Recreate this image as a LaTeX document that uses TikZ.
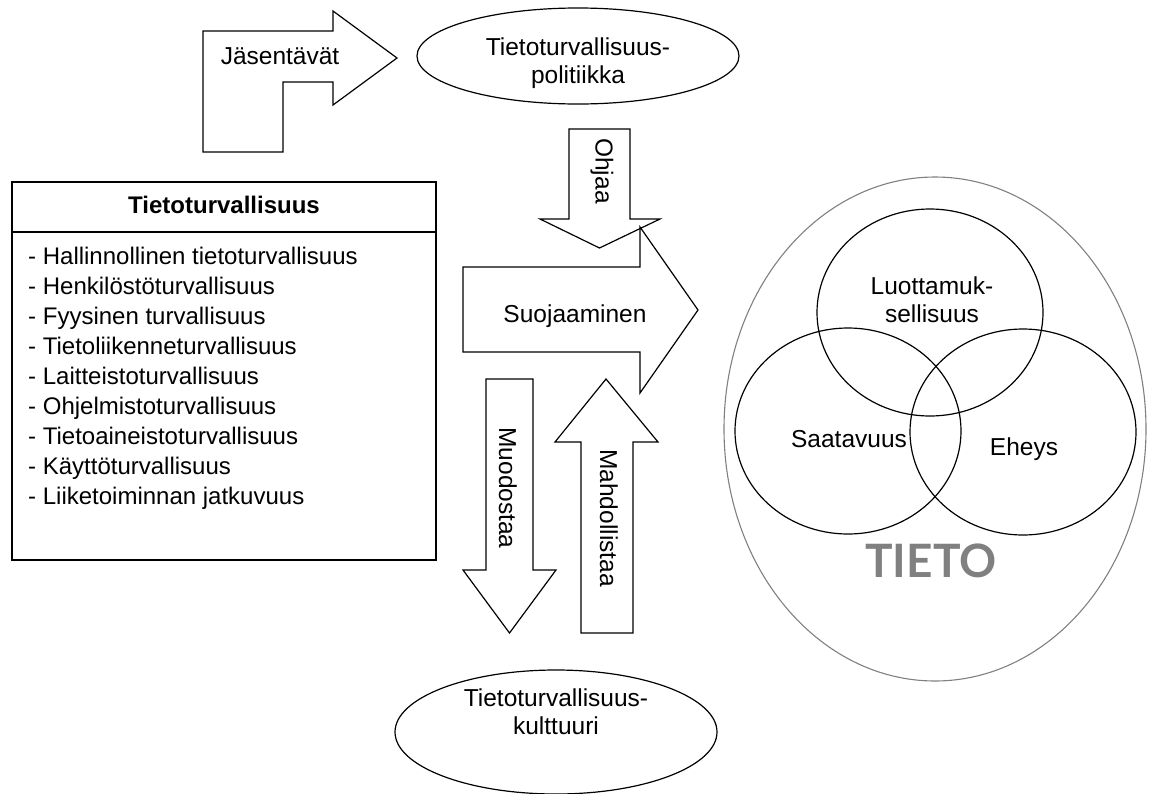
\documentclass[tikz,border=0pt]{standalone}
\usepackage{fontspec}
\setmainfont{Liberation Sans}
\newfontfamily\tietofont{Lato}
\usetikzlibrary{shapes.geometric}
\definecolor{ringgray}{RGB}{128,128,128}
\begin{document}
\begin{tikzpicture}[x=1pt,y=-1pt,
  txt/.style={inner sep=0pt, font=\fontsize{24.5}{28}\selectfont},
  twoline/.style={txt, align=center},
  vtxt/.style={txt, rotate=-90},
  shapeline/.style={draw=black, line width=1.2pt, line join=miter},
  oval/.style={ellipse, draw=black, line width=1.2pt, inner sep=0pt},
  listitem/.style={inner sep=0pt, font=\fontsize{24}{28}\selectfont, anchor=base west}]
\useasboundingbox (0,0) rectangle (1149,793);

% bent arrow: Jasentavat
\draw[shapeline] (203,31) -- (333,31) -- (333,11) -- (397,58) -- (333,105)
  -- (333,82) -- (283,82) -- (283,152) -- (203,152) -- cycle;
\node[txt, anchor=base] (jas) at (280,64) {Jäsentävät};

% policy oval
\node[oval, minimum width=322pt, minimum height=96pt] (policy) at (578,56) {};
\node[twoline] (policytxt) at (578,63) {Tietoturvallisuus-\\politiikka};

% downward arrow: Ohjaa
\draw[shapeline] (569,129) -- (630,129) -- (630,219) -- (660,219) -- (599.5,248)
  -- (540,219) -- (569,219) -- cycle;
\node[vtxt] (ohjaa) at (602,171) {Ohjaa};

% right arrow: Suojaaminen
\draw[shapeline] (463,267) -- (640,267) -- (640,227) -- (698,310) -- (640,393)
  -- (640,352) -- (463,352) -- cycle;
\node[txt, anchor=base] (suoj) at (575,322) {Suojaaminen};

% downward arrow: Muodostaa
\draw[shapeline] (486,379) -- (533,379) -- (533,570) -- (556,570) -- (509.5,633)
  -- (463,570) -- (486,570) -- cycle;
\node[vtxt] (muod) at (508,488) {Muodostaa};

% upward arrow: Mahdollistaa
\draw[shapeline] (606,379) -- (658,442) -- (633,442) -- (633,633) -- (581,633)
  -- (581,442) -- (555,442) -- cycle;
\node[vtxt] (mahd) at (609,518) {Mahdollistaa};

% culture oval, its lower edge running off the page
\node[oval, minimum width=322pt, minimum height=124pt] (culture) at (556,732) {};
\node[twoline] (culturetxt) at (556,712) {Tietoturvallisuus-\\kulttuuri};

% list box
\draw[shapeline] (12,182) rectangle (436,560);
\draw[shapeline] (12,232) -- (436,232);
\node[txt, anchor=base, font=\fontsize{24}{28}\selectfont\bfseries] (boxtitle) at (224,213) {Tietoturvallisuus};
\foreach \t [count=\i] in {Hallinnollinen tietoturvallisuus, Henkilöstöturvallisuus,
    Fyysinen turvallisuus, Tietoliikenneturvallisuus, Laitteistoturvallisuus,
    Ohjelmistoturvallisuus, Tietoaineistoturvallisuus, Käyttöturvallisuus,
    Liiketoiminnan jatkuvuus}
  \node[listitem] (item\i) at (28,{234+30*\i}) {- \t};

% information: outer ring and three circles
\node[ellipse, draw=ringgray, line width=1.1pt, inner sep=0pt,
  minimum width=422pt, minimum height=504pt] (tieto) at (935,429) {};
\node[oval, minimum width=226pt, minimum height=207pt] (conf) at (930,312.5) {};
\node[oval, minimum width=226pt, minimum height=206pt] (avail) at (848,431) {};
\node[oval, minimum width=226pt, minimum height=206pt] (integ) at (1023,432) {};
\node[twoline] (conftxt) at (932,300) {Luottamuk-\\sellisuus};
\node[txt, anchor=base] (availtxt) at (849,447) {Saatavuus};
\node[txt, anchor=base] (integtxt) at (1024,455) {Eheys};
\node[inner sep=0pt, anchor=base, text=ringgray,
  font=\tietofont\fontsize{46}{50}\selectfont\bfseries] (tietotxt) at (931,577) {TIETO};
\end{tikzpicture}
\end{document}
